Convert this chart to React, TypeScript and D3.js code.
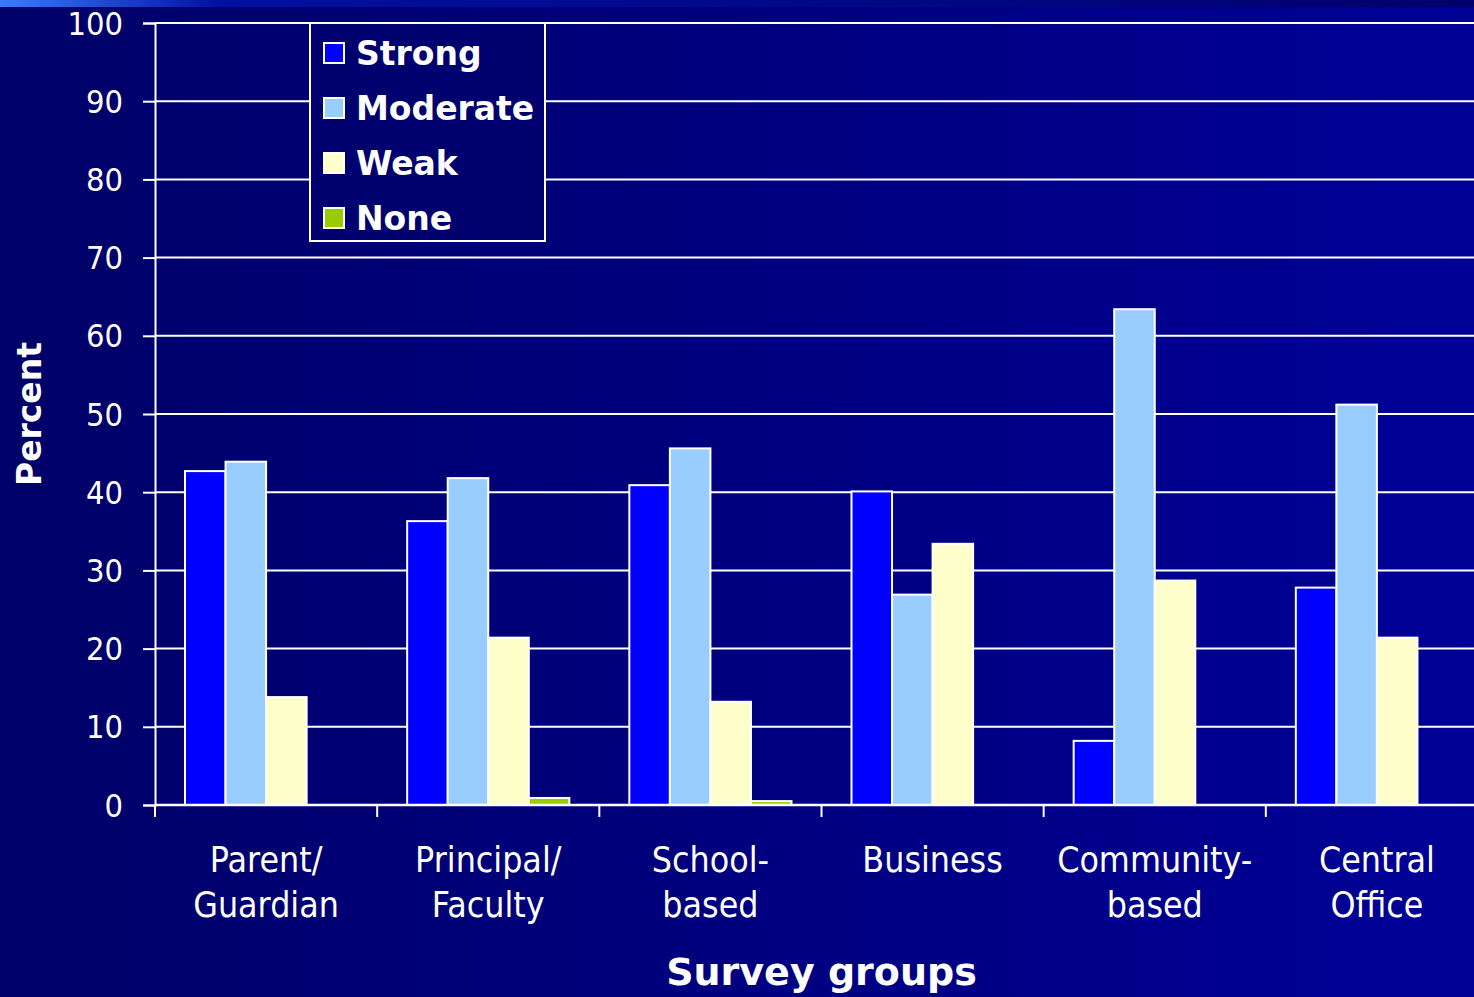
import React, { useEffect, useRef } from "react"
import * as d3 from "d3"

// survey groups (two-line labels)
const categories = ["Parent/Guardian", "Principal/Faculty", "School-based", "Business", "Community-based", "Central Office"]
const categoryLines = [["Parent/", "Guardian"], ["Principal/", "Faculty"], ["School-", "based"], ["Business"], ["Community-", "based"], ["Central", "Office"]]

const seriesNames = ["Strong", "Moderate", "Weak", "None"]
const seriesColors = ["#0000ff", "#99ccff", "#ffffcc", "#99cc00"]

const strong = [42.7, 36.3, 40.9, 40.1, 8.2, 27.8]
const moderate = [43.9, 41.8, 45.6, 26.9, 63.4, 51.2]
const weak = [13.8, 21.4, 13.2, 33.4, 28.7, 21.4]
const none = [0, 0.9, 0.5, 0, 0, 0]

const yTicks = [0, 10, 20, 30, 40, 50, 60, 70, 80, 90, 100]

export default function App() {
  const ref = useRef<SVGSVGElement>(null)

  useEffect(() => {
    const width = 1474,
      height = 997
    const svg = d3.select(ref.current)
    svg.selectAll("*").remove()
    svg.attr("width", width).attr("height", height)

    const font = "'DejaVu Sans', Verdana, sans-serif"

    // background
    const defs = svg.append("defs")
    const bg = defs.append("linearGradient").attr("id", "bg").attr("x1", 0).attr("x2", 1).attr("y1", 0).attr("y2", 0)
    bg.append("stop").attr("offset", 0).attr("stop-color", "#000068")
    bg.append("stop").attr("offset", 1).attr("stop-color", "#000096")
    const strip = defs.append("linearGradient").attr("id", "strip").attr("x1", 0).attr("x2", 1).attr("y1", 0).attr("y2", 0)
    strip.append("stop").attr("offset", 0).attr("stop-color", "#3a7cff")
    strip.append("stop").attr("offset", 0.15).attr("stop-color", "#0010a0")
    strip.append("stop").attr("offset", 1).attr("stop-color", "#00006a")

    svg.append("rect").attr("width", width).attr("height", height).attr("fill", "url(#bg)")
    svg.append("rect").attr("width", width).attr("height", 7).attr("fill", "url(#strip)")

    const left = 155,
      right = 1488,
      top = 23,
      bottom = 805

    const x = d3.scaleBand().domain(categories).range([left, right]).paddingInner(0.27).paddingOuter(0.135)
    const xSub = d3.scaleBand().domain(seriesNames).range([0, x.bandwidth()])
    const y = d3.scaleLinear().domain([0, 100]).range([bottom, top])

    // gridlines
    svg
      .append("g")
      .selectAll("line")
      .data(yTicks.filter((d) => d > 0))
      .enter()
      .append("line")
      .attr("x1", left)
      .attr("x2", width)
      .attr("y1", (d) => y(d))
      .attr("y2", (d) => y(d))
      .attr("stroke", "#fff")
      .attr("stroke-width", 2)

    // y axis (ticks only, labels drawn below so they can be narrowed)
    const yAxis = svg
      .append("g")
      .attr("transform", "translate(" + left + ",0)")
      .call(d3.axisLeft(y).tickValues(yTicks).tickSize(12).tickFormat(() => ""))
    yAxis.select(".domain").attr("stroke", "#fff").attr("stroke-width", 2)
    yAxis.selectAll(".tick line").attr("stroke", "#fff").attr("stroke-width", 2)

    svg
      .append("g")
      .selectAll("text")
      .data(yTicks)
      .enter()
      .append("text")
      .attr("transform", (d) => "translate(123," + (y(d) + 11.5) + ") scale(0.91,1)")
      .attr("text-anchor", "end")
      .attr("fill", "#fff")
      .attr("font-size", 32)
      .attr("font-family", font)
      .text((d) => d)

    // bars
    const series = [strong, moderate, weak, none]
    const rows = categories.map((c, i) => ({ cat: c, values: seriesNames.map((s, j) => ({ s, v: series[j][i], color: seriesColors[j] })) }))
    svg
      .append("g")
      .selectAll("g")
      .data(rows)
      .enter()
      .append("g")
      .attr("transform", (d) => "translate(" + x(d.cat) + ",0)")
      .selectAll("rect")
      .data((d) => d.values.filter((e) => e.v > 0))
      .enter()
      .append("rect")
      .attr("x", (d) => xSub(d.s))
      .attr("width", xSub.bandwidth())
      .attr("y", (d) => y(d.v))
      .attr("height", (d) => bottom - y(d.v))
      .attr("fill", (d) => d.color)
      .attr("stroke", "#fff")
      .attr("stroke-width", 2)

    // x axis
    svg
      .append("line")
      .attr("x1", left)
      .attr("x2", width)
      .attr("y1", bottom)
      .attr("y2", bottom)
      .attr("stroke", "#fff")
      .attr("stroke-width", 2.5)
    const step = x.step()
    svg
      .append("g")
      .selectAll("line")
      .data(d3.range(categories.length + 1))
      .enter()
      .append("line")
      .attr("x1", (i) => left + i * step)
      .attr("x2", (i) => left + i * step)
      .attr("y1", bottom)
      .attr("y2", bottom + 12)
      .attr("stroke", "#fff")
      .attr("stroke-width", 2)

    // category labels
    const labels = svg
      .append("g")
      .selectAll("text")
      .data(categories)
      .enter()
      .append("text")
      .attr("transform", (d) => "translate(" + (x(d) + x.bandwidth() / 2) + ",872) scale(0.91,1)")
      .attr("text-anchor", "middle")
      .attr("fill", "#fff")
      .attr("font-size", 35)
      .attr("font-family", font)
    labels
      .selectAll("tspan")
      .data((d, i) => categoryLines[i])
      .enter()
      .append("tspan")
      .attr("x", 0)
      .attr("dy", (d, i) => (i === 0 ? 0 : 45))
      .text((d) => d)

    // axis titles
    svg
      .append("text")
      .attr("x", (left + right) / 2)
      .attr("y", 985)
      .attr("text-anchor", "middle")
      .attr("fill", "#fff")
      .attr("font-size", 38)
      .attr("font-weight", "bold")
      .attr("font-family", font)
      .text("Survey groups")
    svg
      .append("text")
      .attr("transform", "translate(41,414) rotate(-90)")
      .attr("text-anchor", "middle")
      .attr("fill", "#fff")
      .attr("font-size", 33)
      .attr("font-weight", "bold")
      .attr("font-family", font)
      .text("Percent")

    // legend
    const legend = svg.append("g").attr("transform", "translate(310,23)")
    legend.append("rect").attr("width", 235).attr("height", 218).attr("fill", "#00006e").attr("stroke", "#fff").attr("stroke-width", 2)
    const item = legend
      .selectAll("g")
      .data(seriesNames)
      .enter()
      .append("g")
      .attr("transform", (d, i) => "translate(0," + (30 + i * 55) + ")")
    item
      .append("rect")
      .attr("x", 14)
      .attr("y", -10)
      .attr("width", 20)
      .attr("height", 20)
      .attr("fill", (d, i) => seriesColors[i])
      .attr("stroke", "#fff")
      .attr("stroke-width", 2)
    item
      .append("text")
      .attr("x", 46)
      .attr("y", 12)
      .attr("fill", "#fff")
      .attr("font-size", 33)
      .attr("font-weight", "bold")
      .attr("font-family", font)
      .text((d) => d)
  }, [])

  return <svg ref={ref} style={{ position: "absolute", left: 0, top: 0, display: "block" }} />
}
